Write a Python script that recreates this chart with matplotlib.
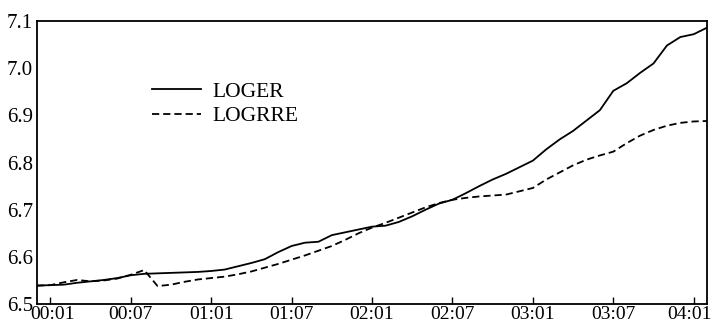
import numpy as np
import matplotlib
matplotlib.use('Agg')
import matplotlib.pyplot as plt
import matplotlib.transforms as mtransforms

plt.rcParams['font.family'] = ['Liberation Serif', 'DejaVu Serif']

# monthly index, 0 = 1999:12 ... 50 = 2004:02
months = np.arange(51)

loger = [6.539, 6.540, 6.541, 6.545, 6.548, 6.551, 6.555, 6.561, 6.564, 6.565,
         6.566, 6.567, 6.568, 6.570, 6.573, 6.580, 6.587, 6.595, 6.610, 6.623,
         6.630, 6.632, 6.646, 6.652, 6.658, 6.664, 6.666, 6.674, 6.686, 6.700,
         6.713, 6.721, 6.735, 6.750, 6.764, 6.776, 6.790, 6.804, 6.828, 6.849,
         6.867, 6.889, 6.911, 6.952, 6.968, 6.990, 7.010, 7.048, 7.066, 7.072,
         7.086]

logrre = [6.539, 6.540, 6.546, 6.551, 6.548, 6.550, 6.554, 6.562, 6.572, 6.538,
          6.541, 6.547, 6.552, 6.555, 6.558, 6.563, 6.569, 6.577, 6.585, 6.594,
          6.603, 6.613, 6.623, 6.636, 6.650, 6.662, 6.672, 6.683, 6.694, 6.705,
          6.714, 6.721, 6.725, 6.728, 6.730, 6.732, 6.739, 6.746, 6.764, 6.779,
          6.794, 6.806, 6.815, 6.823, 6.841, 6.857, 6.869, 6.878, 6.884, 6.887,
          6.888]

tick_pos = [1, 7, 13, 19, 25, 31, 37, 43, 49]
tick_labels = ['00:01', '00:07', '01:01', '01:07', '02:01', '02:07', '03:01', '03:07', '04:01']
y_ticks = [6.5, 6.6, 6.7, 6.8, 6.9, 7.0, 7.1]

fig = plt.figure(figsize=(7.15, 3.25), dpi=100)
ax = fig.add_axes([0.0517, 0.0646, 0.9373, 0.8708])

ax.plot(months, loger, color='black', linewidth=1.3, label='LOGER')
ax.plot(months, logrre, color='black', linewidth=1.3, linestyle=(0, (4, 2.2)), label='LOGRRE')

ax.set_xlim(0, 50)
ax.set_ylim(6.5, 7.1)
ax.set_xticks(tick_pos)
ax.set_xticklabels(tick_labels)
ax.set_yticks(y_ticks)
ax.set_yticklabels(['%.1f' % v for v in y_ticks])

ax.tick_params(axis='x', direction='in', length=5, width=1, labelsize=14, pad=1.5)
ax.tick_params(axis='y', length=0, labelsize=15, pad=3)
for s in ax.spines.values():
    s.set_linewidth(1.3)

# nudge the first and last date labels so they stay inside the canvas
xl = ax.get_xticklabels()
xl[-1].set_transform(xl[-1].get_transform() + mtransforms.ScaledTranslation(-4/100, 0, fig.dpi_scale_trans))
xl[0].set_transform(xl[0].get_transform() + mtransforms.ScaledTranslation(2/100, 0, fig.dpi_scale_trans))

ax.legend(loc='upper left', bbox_to_anchor=(0.1716, 0.785), frameon=False, fontsize=15.5,
          handlelength=2.3, handletextpad=0.5, labelspacing=0.2,
          borderpad=0, borderaxespad=0)

fig.savefig('out.png', dpi=100)
